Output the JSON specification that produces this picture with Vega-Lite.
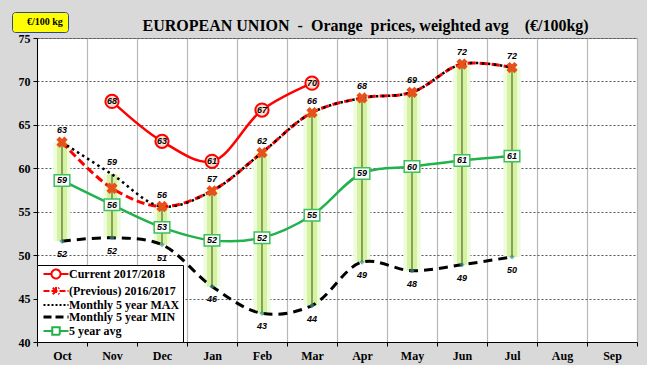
{
  "$schema": "https://vega.github.io/schema/vega-lite/v6.json",
  "width": 600,
  "height": 304,
  "autosize": "none",
  "padding": {"left": 37, "top": 38, "right": 10, "bottom": 23},
  "background": "#d9d9d9",
  "view": {"fill": "white", "stroke": "#8a8a8a"},
  "title": {
    "text": "EUROPEAN UNION\u00a0 -\u00a0 Orange\u00a0 prices, weighted avg\u00a0\u00a0\u00a0 (€/100kg)",
    "font": "Liberation Serif", "fontSize": 16, "fontWeight": "bold", "color": "black",
    "anchor": "start", "dx": 131, "dy": 26, "offset": 4
  },
  "data": {"values": [
    {"month": "Oct", "cur": null, "prev": 63.0, "max": 63.0, "min": 51.6, "avg": 58.6},
    {"month": "Nov", "cur": 67.7, "prev": 57.7, "max": 59.3, "min": 52.0, "avg": 55.8},
    {"month": "Dec", "cur": 63.1, "prev": 55.6, "max": 55.6, "min": 51.2, "avg": 53.2},
    {"month": "Jan", "cur": 60.8, "prev": 57.4, "max": 57.4, "min": 46.4, "avg": 51.7},
    {"month": "Feb", "cur": 66.7, "prev": 61.8, "max": 61.8, "min": 43.3, "avg": 52.0},
    {"month": "Mar", "cur": 69.8, "prev": 66.4, "max": 66.4, "min": 44.2, "avg": 54.6},
    {"month": "Apr", "cur": null, "prev": 68.1, "max": 68.1, "min": 49.2, "avg": 59.4},
    {"month": "May", "cur": null, "prev": 68.75, "max": 68.75, "min": 48.2, "avg": 60.2},
    {"month": "Jun", "cur": null, "prev": 72.0, "max": 72.0, "min": 48.9, "avg": 60.9},
    {"month": "Jul", "cur": null, "prev": 71.6, "max": 71.6, "min": 49.8, "avg": 61.4},
    {"month": "Aug", "cur": null, "prev": null, "max": null, "min": null, "avg": null},
    {"month": "Sep", "cur": null, "prev": null, "max": null, "min": null, "avg": null}
  ]},
  "encoding": {
    "x": {
      "field": "month", "type": "ordinal",
      "scale": {"type": "band", "domain": ["Oct","Nov","Dec","Jan","Feb","Mar","Apr","May","Jun","Jul","Aug","Sep"], "paddingInner": 0, "paddingOuter": 0},
      "axis": {
        "title": null, "labelAngle": 0, "tickBand": "extent", "grid": true,
        "gridColor": "#b8b8b8", "gridWidth": 1.2, "domainColor": "black", "tickColor": "black", "tickSize": 4,
        "labelFont": "Liberation Serif", "labelFontWeight": "bold", "labelFontSize": 12, "labelColor": "black", "labelPadding": 4
      }
    }
  },
  "layer": [
    {
      "transform": [{"filter": "isValid(datum.max)"}],
      "mark": {"type": "rule", "strokeWidth": 17, "color": "#eefbdc", "strokeCap": "butt"},
      "encoding": {"y": {"field": "min", "type": "quantitative", "scale": {"domain": [40, 75], "nice": false, "zero": false}}, "y2": {"field": "max"}}
    },
    {
      "transform": [{"filter": "isValid(datum.max)"}],
      "mark": {"type": "rule", "strokeWidth": 10, "color": "#d4f3a0", "strokeCap": "butt"},
      "encoding": {"y": {"field": "min", "type": "quantitative", "scale": {"domain": [40, 75], "nice": false, "zero": false}}, "y2": {"field": "max"}}
    },
    {
      "transform": [{"filter": "isValid(datum.max)"}],
      "mark": {"type": "rule", "strokeWidth": 1.2, "color": "#58682c"},
      "encoding": {
        "y": {"field": "min", "type": "quantitative",
          "scale": {"domain": [40, 75], "nice": false, "zero": false},
          "axis": {
            "title": null, "values": [40,45,50,55,60,65,70,75], "grid": true,
            "gridColor": "#555555", "gridDash": [2, 2], "gridWidth": 1,
            "domainColor": "black", "tickColor": "black", "tickSize": 4,
            "labelFont": "Liberation Serif", "labelFontWeight": "bold", "labelFontSize": 12, "labelColor": "black", "labelPadding": 3
          }
        },
        "y2": {"field": "max"},
        "opacity": {
          "datum": "€/100 kg", "type": "nominal", "scale": {"range": [1]},
          "legend": {
            "orient": "none", "legendX": -25, "legendY": -26, "title": null,
            "fillColor": "#ffff00", "strokeColor": "#2e4a8c", "cornerRadius": 3, "padding": 5,
            "symbolSize": 0, "symbolOpacity": 0, "symbolStrokeWidth": 0, "labelOffset": 0,
            "labelFont": "Liberation Serif", "labelFontWeight": "bold", "labelFontSize": 10, "labelColor": "black"
          }
        }
      }
    },
    {
      "transform": [{"filter": "isValid(datum.min)"}],
      "mark": {"type": "line", "strokeWidth": 3, "strokeDash": [9, 6], "interpolate": "catmull-rom"},
      "encoding": {
        "y": {"field": "min", "type": "quantitative", "scale": {"domain": [40, 75], "nice": false, "zero": false}},
        "color": {
          "datum": "Monthly 5 year MIN", "type": "nominal",
          "scale": {
            "domain": ["Current 2017/2018", "(Previous) 2016/2017", "Monthly 5 year MAX", "Monthly 5 year MIN", "5 year avg"],
            "range": ["#ff0000", "#ff0000", "#000000", "#000000", "#22b24c"]
          },
          "legend": {
            "orient": "bottom-left", "offset": 0, "title": null,
            "fillColor": "white", "strokeColor": "black", "padding": 3, "rowPadding": 0,
            "labelFont": "Liberation Serif", "labelFontWeight": "bold", "labelFontSize": 12, "labelColor": "black",
            "labelOffset": 17, "labelLimit": 200, "symbolSize": 625, "symbolStrokeWidth": 2,
            "encode": {
              "symbols": {"update": {
                "shape": {"signal": "datum.index == 0 ? 'M-1,0H-0.36M0.36,0H1M0.36,0A0.36,0.36,0,1,1,-0.36,0A0.36,0.36,0,1,1,0.36,0Z' : datum.index == 1 ? 'M-1,0H1M-0.26,-0.26L0.26,0.26M-0.26,0.26L0.26,-0.26M0,-0.32V0.32' : datum.index == 4 ? 'M-1,0H-0.3M0.3,0H1M-0.3,-0.3H0.3V0.3H-0.3Z' : 'M-1,0H1'"},
                "strokeDash": {"signal": "datum.index == 1 ? [6, 2] : datum.index == 2 ? [2, 2] : datum.index == 3 ? [8, 4] : [1, 0]"},
                "strokeWidth": {"signal": "datum.index == 3 ? 3 : 2"},
                "fill": {"value": "white"},
                "size": {"value": 625},
                "x": {"value": 16}
              }}
            }
          }
        }
      }
    },
    {
      "transform": [{"filter": "isValid(datum.min)"}],
      "mark": {"type": "point", "shape": "diamond", "filled": true, "size": 28, "color": "#3e9090"},
      "encoding": {"y": {"field": "min", "type": "quantitative", "scale": {"domain": [40, 75], "nice": false, "zero": false}}}
    },
    {
      "transform": [{"filter": "isValid(datum.avg)"}],
      "mark": {"type": "line", "strokeWidth": 2.5, "interpolate": "catmull-rom"},
      "encoding": {"y": {"field": "avg", "type": "quantitative", "scale": {"domain": [40, 75], "nice": false, "zero": false}}, "color": {"datum": "5 year avg", "type": "nominal"}}
    },
    {
      "transform": [{"filter": "isValid(datum.avg)"}],
      "mark": {"type": "point", "shape": "M-1.3,-0.95H1.3V0.95H-1.3Z", "size": 144, "filled": true, "fill": "white", "stroke": "#3cc060", "strokeWidth": 1.5, "opacity": 1},
      "encoding": {"y": {"field": "avg", "type": "quantitative", "scale": {"domain": [40, 75], "nice": false, "zero": false}}}
    },
    {
      "transform": [{"filter": "isValid(datum.prev)"}],
      "mark": {"type": "line", "strokeWidth": 3, "strokeDash": [8, 4], "interpolate": "catmull-rom"},
      "encoding": {"y": {"field": "prev", "type": "quantitative", "scale": {"domain": [40, 75], "nice": false, "zero": false}}, "color": {"datum": "(Previous) 2016/2017", "type": "nominal"}}
    },
    {
      "transform": [{"filter": "isValid(datum.max)"}],
      "mark": {"type": "line", "strokeWidth": 2.5, "strokeDash": [2.5, 3.5], "interpolate": "catmull-rom"},
      "encoding": {"y": {"field": "max", "type": "quantitative", "scale": {"domain": [40, 75], "nice": false, "zero": false}}, "color": {"datum": "Monthly 5 year MAX", "type": "nominal"}}
    },
    {
      "transform": [{"filter": "isValid(datum.prev)"}],
      "mark": {"type": "point", "shape": "cross", "angle": 45, "filled": true, "size": 130, "color": "#e8501a", "opacity": 1},
      "encoding": {"y": {"field": "prev", "type": "quantitative", "scale": {"domain": [40, 75], "nice": false, "zero": false}}}
    },
    {
      "transform": [{"filter": "isValid(datum.cur)"}],
      "mark": {"type": "line", "strokeWidth": 2.5, "interpolate": "catmull-rom"},
      "encoding": {"y": {"field": "cur", "type": "quantitative", "scale": {"domain": [40, 75], "nice": false, "zero": false}}, "color": {"datum": "Current 2017/2018", "type": "nominal"}}
    },
    {
      "transform": [{"filter": "isValid(datum.cur)"}],
      "mark": {"type": "point", "shape": "circle", "size": 175, "filled": true, "fill": "#fbe0d2", "stroke": "#ff0000", "strokeWidth": 2, "opacity": 1},
      "encoding": {"y": {"field": "cur", "type": "quantitative", "scale": {"domain": [40, 75], "nice": false, "zero": false}}}
    },
    {
      "transform": [{"filter": "isValid(datum.max)"}],
      "mark": {"type": "text", "dy": -12, "font": "Liberation Sans", "fontSize": 9, "fontStyle": "italic", "fontWeight": "bold", "color": "black"},
      "encoding": {"y": {"field": "max", "type": "quantitative", "scale": {"domain": [40, 75], "nice": false, "zero": false}}, "text": {"field": "max", "type": "quantitative", "format": ".0f"}}
    },
    {
      "transform": [{"filter": "isValid(datum.min)"}],
      "mark": {"type": "text", "dy": 13, "font": "Liberation Sans", "fontSize": 9, "fontStyle": "italic", "fontWeight": "bold", "color": "black"},
      "encoding": {"y": {"field": "min", "type": "quantitative", "scale": {"domain": [40, 75], "nice": false, "zero": false}}, "text": {"field": "min", "type": "quantitative", "format": ".0f"}}
    },
    {
      "transform": [{"filter": "isValid(datum.avg)"}],
      "mark": {"type": "text", "font": "Liberation Sans", "fontSize": 9, "fontStyle": "italic", "fontWeight": "bold", "color": "black"},
      "encoding": {"y": {"field": "avg", "type": "quantitative", "scale": {"domain": [40, 75], "nice": false, "zero": false}}, "text": {"field": "avg", "type": "quantitative", "format": ".0f"}}
    },
    {
      "transform": [{"filter": "isValid(datum.cur)"}],
      "mark": {"type": "text", "font": "Liberation Sans", "fontSize": 9, "fontStyle": "italic", "fontWeight": "bold", "color": "black"},
      "encoding": {"y": {"field": "cur", "type": "quantitative", "scale": {"domain": [40, 75], "nice": false, "zero": false}}, "text": {"field": "cur", "type": "quantitative", "format": ".0f"}}
    }
  ]
}
